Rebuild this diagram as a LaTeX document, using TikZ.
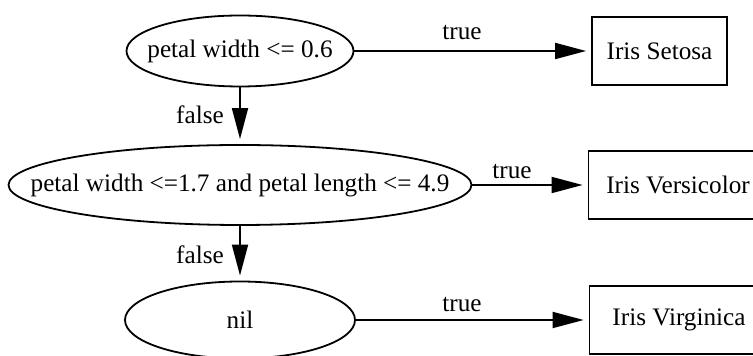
\documentclass[tikz,border=0pt]{standalone}
\usepackage{fontspec}
\setmainfont{Liberation Serif}
\usetikzlibrary{shapes.geometric,arrows.meta}
\begin{document}
\begin{tikzpicture}[x=0.5pt,y=-0.5pt,
  every node/.style={font=\fontsize{12.6}{15}\selectfont, inner sep=0pt},
  test/.style={draw, ellipse, line width=0.9pt},
  leaf/.style={draw, rectangle, line width=0.9pt, minimum height=34pt, minimum width=89.5pt},
  edge/.style={line width=0.9pt, shorten >=2.5pt, -{Triangle[length=15.5pt,width=8pt]}},
  elabel/.style={}]
\useasboundingbox (0,0) rectangle (753,356);

% decision nodes (text boxed to zero width so the ellipse keeps its set size)
\node[test, minimum width=113.5pt, minimum height=35.5pt] (e1) at (240,51) {\makebox[0pt]{petal width <= 0.6}};
\node[test, minimum width=231.5pt, minimum height=40pt]   (e2) at (240,185) {\makebox[0pt]{petal width <=1.7 and petal length <= 4.9}};
\node[test, minimum width=115pt,   minimum height=38.5pt] (e3) at (240,320) {\makebox[0pt]{nil}};

% leaves
\node[leaf, minimum width=67.5pt] (b1) at (659.5,51) {Iris Setosa};
\node[leaf] (b2) at (678,185) {Iris Versicolor};
\node[leaf] (b3) at (679,320) {Iris Virginica};

% edges
\draw[edge] (e1) -- (b1);
\draw[edge] (e2) -- (b2);
\draw[edge] (e3) -- (b3);
\draw[edge] (e1) -- (e2);
\draw[edge] (e2) -- (e3);

% edge labels
\node[elabel] (t1) at (462,33) {true};
\node[elabel] (t2) at (512,172) {true};
\node[elabel] (t3) at (462,305) {true};
\node[elabel] (f1) at (200,115) {false};
\node[elabel] (f2) at (200,255) {false};
\end{tikzpicture}
\end{document}
